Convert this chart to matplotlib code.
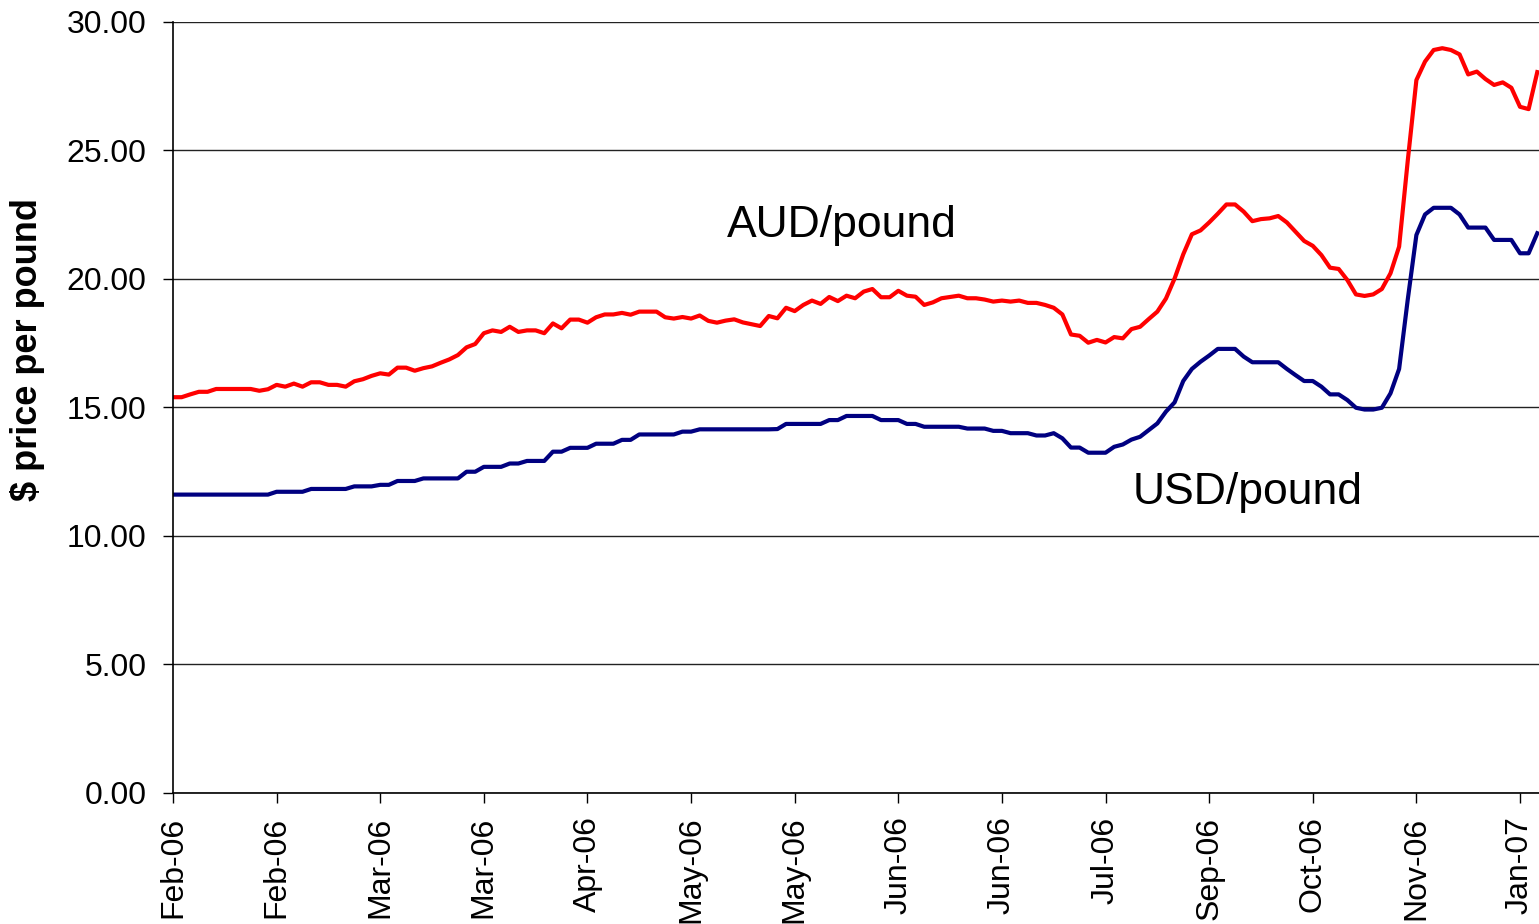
import numpy as np
import matplotlib
matplotlib.use("Agg")
import matplotlib.pyplot as plt
from matplotlib.ticker import FormatStrFormatter

plt.rcParams['font.family'] = ['Liberation Sans', 'DejaVu Sans']

tick_labels = ["Feb-06", "Feb-06", "Mar-06", "Mar-06", "Apr-06", "May-06", "May-06",
               "Jun-06", "Jun-06", "Jul-06", "Sep-06", "Oct-06", "Nov-06", "Jan-07"]

# AUD per pound, one value per observation (12 observations between labels)
aud = [
    15.40, 15.40, 15.51, 15.61, 15.61, 15.72, 15.72, 15.72, 15.72, 15.72, 15.65, 15.71,
    15.88, 15.81, 15.93, 15.81, 15.98, 15.98, 15.88, 15.88, 15.81, 16.02, 16.10, 16.23,
    16.33, 16.28, 16.55, 16.55, 16.43, 16.53, 16.60, 16.74, 16.87, 17.04, 17.34, 17.47,
    17.89, 18.00, 17.94, 18.14, 17.94, 18.00, 18.00, 17.89, 18.27, 18.08, 18.42, 18.42,
    18.30, 18.51, 18.62, 18.62, 18.68, 18.61, 18.73, 18.73, 18.73, 18.51, 18.46, 18.52,
    18.46, 18.58, 18.37, 18.30, 18.38, 18.43, 18.31, 18.24, 18.17, 18.56, 18.47, 18.88,
    18.75, 18.99, 19.16, 19.03, 19.30, 19.14, 19.35, 19.25, 19.51, 19.61, 19.29, 19.29,
    19.54, 19.35, 19.31, 18.99, 19.09, 19.25, 19.30, 19.35, 19.25, 19.25, 19.20, 19.12,
    19.16, 19.12, 19.16, 19.07, 19.07, 18.99, 18.88, 18.62, 17.84, 17.79, 17.52, 17.63,
    17.53, 17.74, 17.69, 18.05, 18.14, 18.44, 18.73, 19.24, 20.02, 20.96, 21.74, 21.89,
    22.20, 22.54, 22.90, 22.90, 22.62, 22.25, 22.33, 22.36, 22.45, 22.20, 21.84, 21.48,
    21.29, 20.93, 20.44, 20.39, 19.96, 19.40, 19.34, 19.40, 19.61, 20.22, 21.26, 24.60,
    27.74, 28.46, 28.91, 28.98, 28.91, 28.74, 27.96, 28.07, 27.78, 27.55, 27.65, 27.44,
    26.70, 26.61, 28.05,
]

# USD per pound
usd = [
    11.61, 11.61, 11.61, 11.61, 11.61, 11.61, 11.61, 11.61, 11.61, 11.61, 11.61, 11.61,
    11.72, 11.72, 11.72, 11.72, 11.83, 11.83, 11.83, 11.83, 11.83, 11.93, 11.93, 11.93,
    11.99, 11.99, 12.14, 12.14, 12.14, 12.24, 12.24, 12.24, 12.24, 12.24, 12.50, 12.50,
    12.69, 12.69, 12.69, 12.82, 12.82, 12.92, 12.92, 12.92, 13.28, 13.28, 13.43, 13.43,
    13.43, 13.59, 13.59, 13.59, 13.74, 13.74, 13.95, 13.95, 13.95, 13.95, 13.95, 14.06,
    14.06, 14.15, 14.15, 14.15, 14.15, 14.15, 14.15, 14.15, 14.15, 14.15, 14.16, 14.36,
    14.36, 14.36, 14.36, 14.36, 14.51, 14.51, 14.67, 14.67, 14.67, 14.67, 14.51, 14.51,
    14.51, 14.36, 14.36, 14.25, 14.25, 14.25, 14.25, 14.25, 14.18, 14.18, 14.18, 14.09,
    14.09, 14.00, 14.00, 14.00, 13.91, 13.91, 14.00, 13.80, 13.44, 13.44, 13.24, 13.24,
    13.24, 13.47, 13.56, 13.75, 13.86, 14.12, 14.38, 14.84, 15.20, 16.03, 16.50, 16.78,
    17.02, 17.28, 17.28, 17.28, 16.98, 16.76, 16.76, 16.76, 16.76, 16.50, 16.26, 16.03,
    16.03, 15.81, 15.51, 15.51, 15.29, 14.99, 14.92, 14.92, 14.99, 15.55, 16.50, 19.20,
    21.71, 22.51, 22.77, 22.77, 22.77, 22.51, 22.00, 22.00, 22.00, 21.52, 21.52, 21.52,
    21.00, 21.00, 21.78,
]

x = np.arange(len(aud))

fig = plt.figure(figsize=(15.39, 9.24), dpi=100)
ax = fig.add_axes([0.1124, 0.1418, 0.8876, 0.8344])

ax.plot(x, aud, color="#ff0000", lw=3, solid_joinstyle="round")
ax.plot(x, usd, color="#000080", lw=3, solid_joinstyle="round")

ax.text(77.5, 22.1, "AUD/pound", fontsize=32, ha="center", va="center")
ax.text(124.5, 11.7, "USD/pound", fontsize=32, ha="center", va="center")

ax.set_xlim(0, 158.2)
ax.set_ylim(0, 30)
ax.set_xticks(np.arange(0, 12 * len(tick_labels), 12))
ax.set_xticklabels(tick_labels, rotation=90)
ax.set_yticks(np.arange(0, 31, 5))
ax.yaxis.set_major_formatter(FormatStrFormatter("%.2f"))

ax.yaxis.grid(True, color="#222222", lw=1)
ax.set_axisbelow(True)
for side in ("top", "right"):
    ax.spines[side].set_visible(False)
for side in ("left", "bottom"):
    ax.spines[side].set_linewidth(1.2)

ax.tick_params(axis="both", direction="out", length=7, width=1, labelsize=23)
ax.tick_params(axis="y", pad=12)
ax.tick_params(axis="x", pad=10)

ax.set_ylabel("$ price per pound", fontsize=26, fontweight="bold")
ax.yaxis.set_label_coords(-0.094, 0.575)

fig.savefig("out.png", dpi=100)
plt.close(fig)
